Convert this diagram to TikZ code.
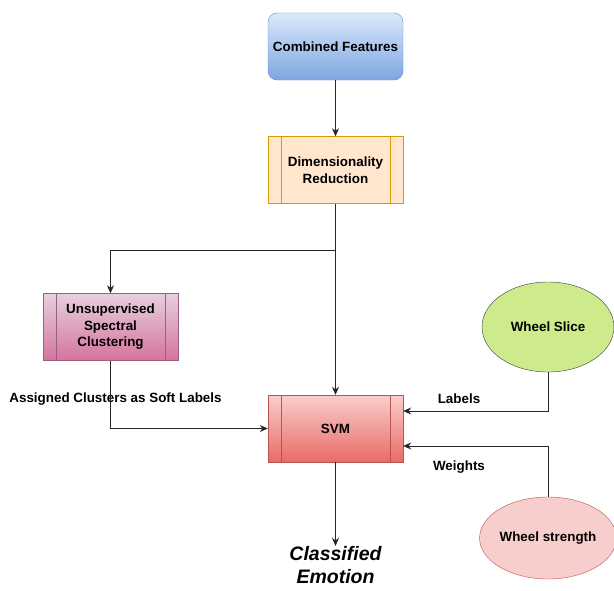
\documentclass[tikz,border=0pt]{standalone}
\usepackage{fontspec}
\setmainfont{Liberation Sans}
\usepackage{tikz}
\usetikzlibrary{arrows.meta}
\usetikzlibrary{shapes.geometric}
\usetikzlibrary{calc}
\definecolor{cfTop}{HTML}{DAE8FC}
\definecolor{cfBot}{HTML}{7EA6E0}
\definecolor{cfLine}{HTML}{6C8EBF}
\definecolor{drFill}{HTML}{FFE6CC}
\definecolor{drLine}{HTML}{D79B00}
\definecolor{usTop}{HTML}{E6D0DE}
\definecolor{usBot}{HTML}{D5739D}
\definecolor{usLine}{HTML}{996185}
\definecolor{svTop}{HTML}{F8CECC}
\definecolor{svBot}{HTML}{EA6B66}
\definecolor{svLine}{HTML}{B85450}
\definecolor{wsFill}{HTML}{CDEB8B}
\definecolor{wsLine}{HTML}{36393D}
\tikzset{
  basenode/.style = {align=center, inner sep=0pt, text centered,
    font=\bfseries\fontsize{13.4}{16.5}\selectfont},
  blk/.style = {basenode, rectangle, minimum width=135pt, minimum height=67pt},
  proc/.style = {blk, draw=#1, path picture={
      \draw[#1] ([xshift=13pt]path picture bounding box.north west)
        -- ([xshift=13pt]path picture bounding box.south west);
      \draw[#1] ([xshift=-13pt]path picture bounding box.north east)
        -- ([xshift=-13pt]path picture bounding box.south east);}},% process box
  wheel/.style = {basenode, ellipse, minimum width=132pt},
  lbl/.style = {basenode},
  flow/.style = {-{Stealth[length=8pt,width=7pt]}, thick, black!85}
}

\begin{document}
\begin{tikzpicture}[x=1pt,y=-1pt]
\useasboundingbox (0,0) rectangle (614,590);

\node [blk, rounded corners=9pt, draw=cfLine, top color=cfTop, bottom color=cfBot]
  (cf) at (335.5,46.5) {Combined Features};
\node [proc=drLine, fill=drFill] (dr) at (335.5,170) {Dimensionality\\Reduction};
\node [proc=usLine, top color=usTop, bottom color=usBot]
  (usc) at (110.5,327) {Unsupervised\\Spectral\\Clustering};
\node [proc=svLine, top color=svTop, bottom color=svBot] (svm) at (335.5,428.5) {SVM};
\node [wheel, draw=wsLine, fill=wsFill, minimum height=90pt] (slice) at (548,327) {Wheel Slice};
\node [wheel, draw=svLine, fill=svTop, minimum height=82pt] (strength) at (548,538) {Wheel strength};

\node [basenode, font=\bfseries\itshape\fontsize{19.5}{23.5}\selectfont]
  (emo) at (335.5,565) {Classified\\Emotion};

\node [lbl] (soft) at (115.5,399) {Assigned Clusters as Soft Labels};
\node [lbl] (lab) at (459,399) {Labels};
\node [lbl] (wgt) at (459,467) {Weights};

\coordinate (split) at (335.5,250);
\coordinate (svmL) at (svm.west);
\coordinate (svmR1) at ($(svm.east)+(0,-17.5)$);
\coordinate (svmR2) at ($(svm.east)+(0,17.5)$);

\draw[flow] (cf) -- (dr);
\draw[flow] (dr) -- (svm);
\draw[flow] (split) -| (usc.north);
\draw[flow] (usc.south) |- (svmL);
\draw[flow] (slice.south) |- (svmR1);
\draw[flow] (strength.north) |- (svmR2);
\draw[flow] (svm) -- (emo.north);
\end{tikzpicture}
\end{document}
